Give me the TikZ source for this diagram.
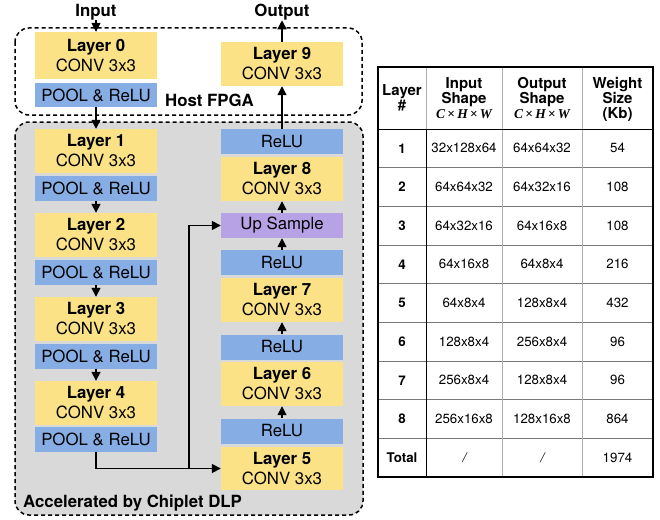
\documentclass[tikz,border=0pt]{standalone}
\usepackage{fontspec}
\setmainfont{TeX Gyre Heros}
\newfontfamily\tms{Liberation Serif}
\usetikzlibrary{arrows.meta}
\definecolor{cyel}{RGB}{251,226,134}
\definecolor{cblu}{RGB}{134,174,229}
\definecolor{cpur}{RGB}{183,162,230}
\definecolor{cgry}{RGB}{217,217,217}
\definecolor{cline}{RGB}{120,120,120}
\newcommand{\chw}{{\tms\fontsize{13.5}{15}\selectfont\itshape C\,\upshape×\,\itshape H\,\upshape×\,\itshape W}}
\begin{document}
\begin{tikzpicture}[x=1pt,y=-1pt,
  lay/.style={fill=cyel,minimum width=122pt,minimum height=44pt,inner sep=0pt,align=center,font=\fontsize{16.8}{20}\selectfont},
  blu/.style={fill=cblu,minimum width=122pt,minimum height=25pt,inner sep=0pt,font=\fontsize{16.8}{20}\selectfont},
  pur/.style={fill=cpur,minimum width=122pt,minimum height=25pt,inner sep=0pt,font=\fontsize{16.8}{20}\selectfont},
  lbl/.style={font=\fontsize{16.8}{20}\selectfont\bfseries,inner sep=0pt},
  arr/.style={line width=1.6pt,-{Triangle[length=9pt,width=9pt]}},
  grp/.style={dash pattern=on 4pt off 3pt,line width=1.5pt,rounded corners=14pt},
  th/.style={font=\fontsize{15}{15}\selectfont\bfseries,align=center,inner sep=0pt},
  td/.style={font=\fontsize{13.3}{15}\selectfont,inner sep=0pt},
  tdb/.style={font=\fontsize{13.3}{15}\selectfont\bfseries,inner sep=0pt}]
\useasboundingbox (0,0) rectangle (660,519);
% groups
\draw[grp] (15,28) rectangle (362,115);
\draw[grp,fill=cgry] (15,122) rectangle (363,515);
\node[lbl,anchor=west] (host) at (165,100) {Host FPGA};
\node[lbl,anchor=west] (acc) at (23,503) {Accelerated by Chiplet DLP};
% left column
\node[lbl] (in) at (96,12) {Input};
\node[lay,minimum height=47pt] (L0) at (96,55.5) {\textbf{Layer 0}\\CONV 3x3};
\node[blu,minimum height=24pt] (P0) at (96,95) {POOL \& ReLU};
\node[lay] (L1) at (96,151) {\textbf{Layer 1}\\CONV 3x3};
\node[blu] (P1) at (96,188.5) {POOL \& ReLU};
\node[lay] (L2) at (96,235) {\textbf{Layer 2}\\CONV 3x3};
\node[blu] (P2) at (96,272.5) {POOL \& ReLU};
\node[lay] (L3) at (96,319) {\textbf{Layer 3}\\CONV 3x3};
\node[blu] (P3) at (96,356) {POOL \& ReLU};
\node[lay] (L4) at (96,403) {\textbf{Layer 4}\\CONV 3x3};
\node[blu] (P4) at (96,439.5) {POOL \& ReLU};
% right column
\node[lbl] (out) at (282,12) {Output};
\node[lay] (L9) at (282,64) {\textbf{Layer 9}\\CONV 3x3};
\node[blu] (R8) at (282,141.5) {ReLU};
\node[lay] (L8) at (282,179) {\textbf{Layer 8}\\CONV 3x3};
\node[pur] (US) at (282,225.5) {Up Sample};
\node[blu] (R7) at (282,262.5) {ReLU};
\node[lay] (L7) at (282,300) {\textbf{Layer 7}\\CONV 3x3};
\node[blu] (R6) at (282,347) {ReLU};
\node[lay] (L6) at (282,384) {\textbf{Layer 6}\\CONV 3x3};
\node[blu] (R5) at (282,431) {ReLU};
\node[lay,minimum height=43pt] (L5) at (282,468.5) {\textbf{Layer 5}\\CONV 3x3};
% connectors
\draw[arr] (in.south) -- (L0.north);
\draw[arr] (P0.south) -- (L1.north);
\draw[arr] (P1.south) -- (L2.north);
\draw[arr] (P2.south) -- (L3.north);
\draw[arr] (P3.south) -- (L4.north);
\draw[arr] (P4.south) |- (L5.west);
\coordinate (j) at (189,468.5);
\draw[arr] (j) |- (US.west);
\draw[arr] (R5.north) -- (L6.south);
\draw[arr] (R6.north) -- (L7.south);
\draw[arr] (R7.north) -- (US.south);
\draw[arr] (US.north) -- (L8.south);
\draw[arr] (R8.north) -- (L9.south);
\draw[arr] (L9.north) -- (out.south);
% table
\foreach \i in {1,...,8}{
  \draw[cline,line width=0.8pt] (378,{129+\i*38.67}) -- (653,{129+\i*38.67});
}
\draw[cline!60,line width=0.8pt] (502,67) -- (502,477) (582,67) -- (582,477) (426,67) -- (426,129);
\draw[black,line width=1pt] (426,129) -- (426,477);
\draw[black,line width=1pt] (378,129) -- (653,129);
\draw[black,line width=2.5pt] (378,67) rectangle (653,477);
\node[th] (h1) at (402,98) {Layer\\\#};
\node[th] (h2) at (464,98) {Input\\Shape\\\chw};
\node[th] (h3) at (542,98) {Output\\Shape\\\chw};
\node[th] (h4) at (617.5,99) {Weight\\Size\\(Kb)};
\foreach \r/\a/\b/\c [count=\k] in {1/32x128x64/64x64x32/54, 2/64x64x32/64x32x16/108, 3/64x32x16/64x16x8/108, 4/64x16x8/64x8x4/216, 5/64x8x4/128x8x4/432, 6/128x8x4/256x8x4/96, 7/256x8x4/128x8x4/96, 8/256x16x8/128x16x8/864, Total/\,\textit{/}/\,\textit{/}/1974}{
  \pgfmathsetmacro{\yy}{129+(\k-0.5)*38.67}
  \node[tdb] (r\k c1) at (402,\yy) {\r};
  \node[td] (r\k c2) at (464,\yy) {\a};
  \node[td] (r\k c3) at (542,\yy) {\b};
  \node[td] (r\k c4) at (617.5,\yy) {\c};
}
\end{tikzpicture}
\end{document}
